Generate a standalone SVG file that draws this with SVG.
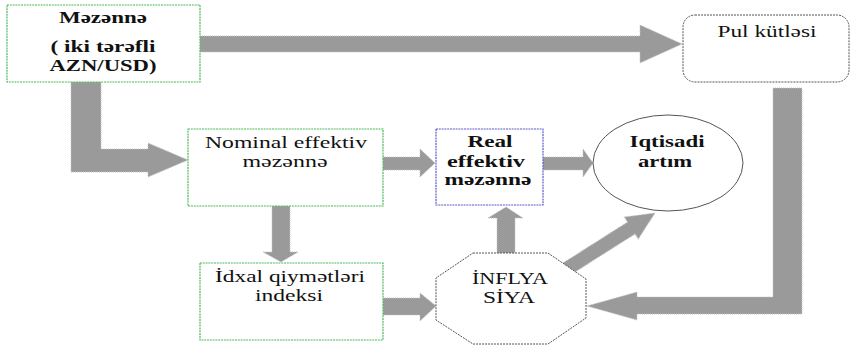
<svg xmlns="http://www.w3.org/2000/svg" width="851" height="345" viewBox="0 0 851 345">
<style>
.arr{fill:#9a9a9a;stroke:#c4c4c4;stroke-width:1;stroke-dasharray:1 1}
.gbox{fill:#fff;stroke:#4cb85a;stroke-width:1.2;stroke-dasharray:2 0.8}
.bbox{fill:#fff;stroke:#5a5ac8;stroke-width:1.2;stroke-dasharray:2 0.8}
.kbox{fill:#fff;stroke:#555;stroke-width:1;stroke-dasharray:2 1}
.t{fill:#111;text-anchor:middle;font-family:'Liberation Serif','Times New Roman','DejaVu Serif',serif}
.b{font-weight:bold;font-size:16px}
.b2{font-weight:bold;font-size:17px}
.r{font-size:17.5px}
.r2{font-size:16.5px}
</style>
<rect width="851" height="345" fill="#fff"/>
<g id="connectors">
<polygon class="arr" points="200,36 640,36 640,25 682,44 640,63 640,52 200,52"/>
<polygon class="arr" points="71,82 101,82 101,149 148,149 148,143 188,160 148,177 148,172 71,172"/>
<polygon class="arr" points="383,157 420,157 420,149 435,163 420,177 420,170 383,170"/>
<polygon class="arr" points="543,157 583,157 583,149 593,163 583,177 583,170 543,170"/>
<polygon class="arr" points="272,206 290,206 290,252 298,252 281,262 263,252 272,252"/>
<polygon class="arr" points="383,298 420,298 420,293 436,306 420,321 420,315 383,315"/>
<polygon class="arr" points="497,253 497,218 488,218 506,207 523,218 515,218 515,253"/>
<polygon class="arr" points="0,-7 78.5,-7 78.5,-13 106.5,0 78.5,13 78.5,7 0,7" transform="translate(565,270) rotate(-32.35)"/>
<polygon class="arr" points="773,88 802,88 802,314 637,314 637,320 587,306 637,292 637,297 773,297"/>
</g>
<g id="mezenne">
<rect class="gbox" x="7" y="5" width="193" height="77"/>
<text class="t b" x="103" y="23" textLength="88" lengthAdjust="spacingAndGlyphs">Məzənnə</text>
<text class="t b" x="103" y="52" textLength="105" lengthAdjust="spacingAndGlyphs">( iki tərəfli</text>
<text class="t b" x="103" y="71" textLength="107" lengthAdjust="spacingAndGlyphs">AZN/USD)</text>
</g>
<g id="pul">
<rect class="kbox" x="683" y="15" width="166" height="67" rx="12" ry="12"/>
<text class="t" style="font-size:16px" x="767" y="37" textLength="99" lengthAdjust="spacingAndGlyphs">Pul kütləsi</text>
</g>
<g id="nominal">
<rect class="gbox" x="188" y="129" width="195" height="77"/>
<text class="t r" x="286" y="148" textLength="162" lengthAdjust="spacingAndGlyphs">Nominal effektiv</text>
<text class="t r" x="285" y="167" textLength="85" lengthAdjust="spacingAndGlyphs">məzənnə</text>
</g>
<g id="real">
<rect class="bbox" x="436" y="129" width="107" height="76"/>
<text class="t b2" x="490" y="147" textLength="45" lengthAdjust="spacingAndGlyphs">Real</text>
<text class="t b2" x="486" y="167" textLength="78" lengthAdjust="spacingAndGlyphs">effektiv</text>
<text class="t b2" x="488" y="185" textLength="87" lengthAdjust="spacingAndGlyphs">məzənnə</text>
</g>
<g id="iqtisadi">
<ellipse cx="668" cy="163" rx="75" ry="48" fill="#fff" stroke="#555" stroke-width="1"/>
<text class="t b2" x="667" y="147" textLength="75" lengthAdjust="spacingAndGlyphs">Iqtisadi</text>
<text class="t b2" x="665" y="167" textLength="54" lengthAdjust="spacingAndGlyphs">artım</text>
</g>
<g id="idxal">
<rect class="gbox" x="200" y="263" width="183" height="77"/>
<text class="t r2" x="290" y="282" textLength="150" lengthAdjust="spacingAndGlyphs">İdxal qiymətləri</text>
<text class="t r2" x="289" y="301" textLength="68" lengthAdjust="spacingAndGlyphs">indeksi</text>
</g>
<g id="inflyasiya">
<polygon class="kbox" points="473,253 548,253 586,279 586,318 548,344 473,344 436,320 436,278"/>
<text class="t r2" x="510" y="284" textLength="76" lengthAdjust="spacingAndGlyphs">İNFLYA</text>
<text class="t r2" x="509" y="303" textLength="52" lengthAdjust="spacingAndGlyphs">SİYA</text>
</g>
</svg>
